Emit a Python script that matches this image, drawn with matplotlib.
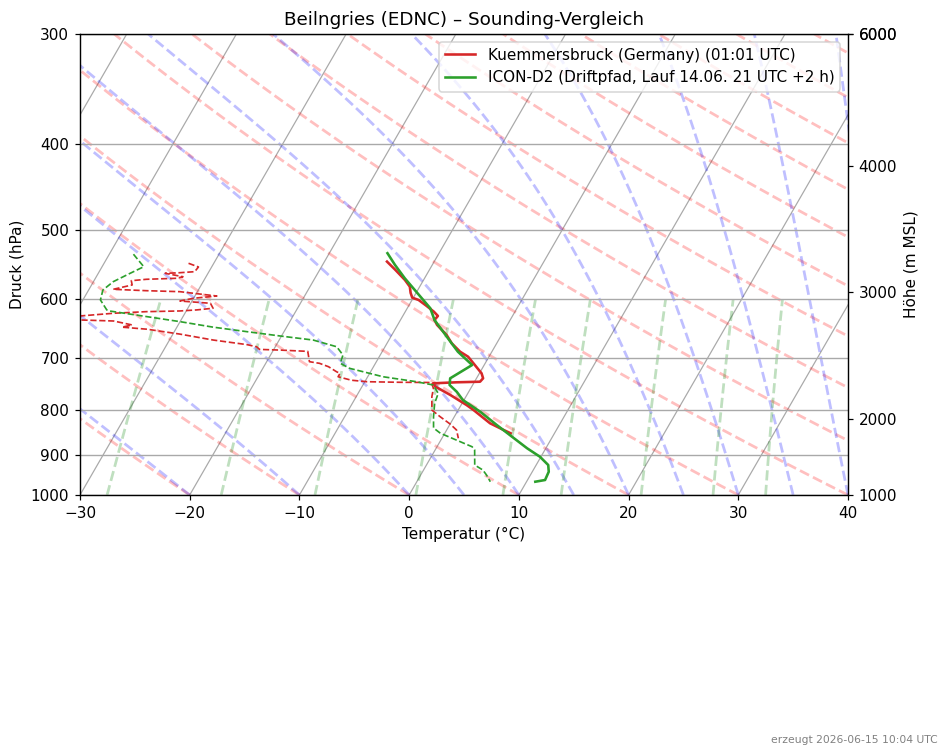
import numpy as np
import matplotlib
matplotlib.use('Agg')
import matplotlib.pyplot as plt
from matplotlib.ticker import MultipleLocator, NullLocator, FixedLocator, ScalarFormatter

# === Sounding data ===
# Kuemmersbruck radiosonde, temperature
kuem_p = [543.6, 555.5, 570.3, 580.4, 589.9, 597.3, 600.9, 609.9, 619.5, 626.5,
          633.1, 641.4, 649.9, 658.5, 672.9, 687.8, 696.9, 727.8, 737.3, 743.9,
          745.0, 747.0, 753.6, 770.2, 790.6, 801.0, 829.2, 843.9, 851.1]
kuem_t = [-14.3, -13.1, -11.7, -10.9, -10.5, -10.1, -9.4, -8.4, -7.4, -6.8,
          -6.9, -6.4, -5.7, -5.0, -4.1, -2.9, -1.9, 0.2, 0.6, 0.5,
          -1.6, -3.7, -3.3, -1.5, 0.5, 1.4, 3.6, 5.2, 6.0]

# Kuemmersbruck dewpoint
kuem_td_p = [546.0, 551.3, 558.1, 559.6, 560.5, 565.5, 567.8, 569.3, 571.4, 577.8,
             584.4, 586.5, 588.0, 594.7, 598.2, 602.5, 606.1, 614.0, 616.7, 618.4,
             619.5, 622.1, 626.5, 629.9, 633.1, 634.8, 641.4, 645.1, 648.6, 656.8,
             667.2, 675.2, 679.0, 683.7, 684.9, 687.2, 706.0, 709.0, 715.3, 724.8,
             727.8, 734.3, 741.0, 743.9, 745.0, 745.4, 756.8, 773.7, 801.0, 815.0,
             830.8, 843.9, 862.3]
kuem_td = [-32.3, -31.2, -31.3, -32.6, -33.9, -32.1, -32.6, -35.3, -36.6, -36.3,
           -37.8, -34.7, -31.6, -28.0, -30.0, -31.1, -28.2, -27.7, -29.1, -30.6,
           -33.6, -36.5, -39.4, -40.2, -39.2, -36.1, -34.2, -35.0, -32.6, -29.4,
           -26.0, -22.7, -21.7, -21.3, -19.4, -16.8, -16.1, -15.1, -14.1, -13.1,
           -12.7, -12.7, -11.3, -9.8, -6.8, -3.9, -3.4, -3.1, -2.4, -1.3,
           0.0, 0.9, 1.5]

# ICON-D2 drift path, temperature
icon_p = [531.8, 548.3, 567.8, 582.8, 598.2, 614.0, 633.1, 649.9, 670.1, 687.8,
          693.8, 712.1, 737.3, 750.3, 763.6, 780.3, 804.6, 832.9, 858.7, 885.2,
          904.8, 924.7, 941.0, 961.6, 965.9]
icon_t = [-14.7, -13.4, -11.8, -10.5, -9.2, -7.9, -6.9, -5.7, -4.3, -3.1,
          -2.6, -1.1, -2.4, -2.1, -1.1, -0.1, 2.1, 4.3, 6.3, 8.3,
          9.9, 11.1, 11.5, 11.6, 10.8]

# ICON-D2 dewpoint
icon_td_p = [533.2, 550.9, 560.5, 572.9, 585.5, 600.9, 616.7, 618.4, 627.6, 635.9,
             645.1, 652.7, 660.2, 667.2, 679.0, 693.8, 709.0, 718.3, 734.3, 743.9,
             750.3, 766.8, 787.0, 815.0, 839.5, 851.1, 881.6, 889.0, 924.7, 936.8,
             949.1, 965.9]
icon_td = [-37.8, -36.2, -37.1, -38.2, -38.7, -38.4, -37.3, -37.0, -33.3, -30.0,
           -26.7, -23.4, -20.1, -16.9, -14.4, -13.4, -13.2, -12.1, -8.6, -5.3,
           -3.6, -2.7, -2.5, -1.9, -1.3, -0.4, 3.2, 3.6, 4.4, 5.4,
           6.0, 6.7]

# right axis: height labels and the pressure they sit at
height_ticks = [1000, 2000, 3000, 4000, 5000, 6000]
height_tick_p = [1000, 820, 588, 423, 300, 300]

# background reference lines
dry_t0 = np.arange(-30, 150, 10)
moist_t0 = np.concatenate((np.arange(-30, 0, 10), np.arange(0, 65, 5)))
mix_ratios = [0.0004, 0.001, 0.002, 0.004, 0.007, 0.01, 0.016, 0.024, 0.032]

T_MIN, T_MAX = -30, 40
P_BOT, P_TOP = 1000, 300

# === Figure ===
DPI = 110
fig = plt.figure(figsize=(948 / DPI, 755 / DPI), dpi=DPI)
ax = fig.add_axes([80 / 948, 260 / 755, 768 / 948, 461 / 755])

# skew factor so isotherms lean 30 deg in display space
pos = ax.get_position()
w_px = pos.width * fig.get_figwidth()
h_px = pos.height * fig.get_figheight()
K = np.tan(np.radians(30)) * h_px / w_px * (T_MAX - T_MIN)


def skew(t, p):
    t = np.asarray(t, dtype=float)
    p = np.asarray(p, dtype=float)
    return t + K * np.log10(P_BOT / p) / np.log10(P_BOT / P_TOP)


def moist_lapse(t0_c, p):
    Rd, cp, Lv, eps = 287.04749, 1004.6662, 2.50084e6, 0.622

    def dtdp(T, pp):
        es = 6.112 * np.exp(17.67 * (T - 273.15) / (T - 29.65))
        rs = eps * es / (pp - es)
        return (Rd * T + Lv * rs) / (cp + Lv ** 2 * rs * eps / (Rd * T ** 2)) / pp

    T = np.asarray(t0_c, dtype=float) + 273.15
    out = [T.copy()]
    for i in range(len(p) - 1):
        h = p[i + 1] - p[i]
        k1 = dtdp(T, p[i])
        k2 = dtdp(T + h / 2 * k1, p[i] + h / 2)
        k3 = dtdp(T + h / 2 * k2, p[i] + h / 2)
        k4 = dtdp(T + h * k3, p[i] + h)
        T = T + h / 6 * (k1 + 2 * k2 + 2 * k3 + k4)
        out.append(T.copy())
    return np.array(out) - 273.15


p_lev = np.linspace(P_BOT, P_TOP, 120)

# skewed isotherms (grid)
for t in range(-70, 50, 10):
    ax.plot(skew([t, t], [P_BOT, P_TOP]), [P_BOT, P_TOP], color='#a9a9a9', lw=0.8, zorder=1)

# dry adiabats
for t0 in dry_t0:
    t = (t0 + 273.15) * (p_lev / 1000.0) ** 0.2857 - 273.15
    ax.plot(skew(t, p_lev), p_lev, color='r', ls='--', lw=1.8, alpha=0.25, zorder=1)

# moist adiabats
moist = moist_lapse(moist_t0, p_lev)
for j in range(len(moist_t0)):
    ax.plot(skew(moist[:, j], p_lev), p_lev, color='b', ls='--', lw=1.8, alpha=0.25, zorder=1)

# mixing ratio lines
p_mix = np.linspace(1000, 600, 50)
for w in mix_ratios:
    e = p_mix * w / (0.622 + w)
    td = 243.5 * np.log(e / 6.112) / (17.67 - np.log(e / 6.112))
    ax.plot(skew(td, p_mix), p_mix, color='g', ls='--', lw=1.8, alpha=0.25, zorder=1)

# soundings
ax.plot(skew(kuem_t, kuem_p), kuem_p, color='tab:red', lw=1.7, zorder=4,
        label='Kuemmersbruck (Germany) (01:01 UTC)')
ax.plot(skew(kuem_td, kuem_td_p), kuem_td_p, color='tab:red', lw=1.1, ls='--', zorder=4)
ax.plot(skew(icon_t, icon_p), icon_p, color='tab:green', lw=1.7, zorder=4,
        label='ICON-D2 (Driftpfad, Lauf 14.06. 21 UTC +2 h)')
ax.plot(skew(icon_td, icon_td_p), icon_td_p, color='tab:green', lw=1.1, ls='--', zorder=4)

# axes
ax.set_yscale('log')
ax.set_ylim(P_BOT, P_TOP)
ax.yaxis.set_major_locator(MultipleLocator(100))
ax.yaxis.set_major_formatter(ScalarFormatter())
ax.yaxis.set_minor_locator(NullLocator())
ax.set_xlim(T_MIN, T_MAX)
ax.xaxis.set_major_locator(MultipleLocator(10))
ax.yaxis.grid(True, color='#a9a9a9', lw=0.9)
ax.set_xlabel('Temperatur (°C)')
ax.set_ylabel('Druck (hPa)')
ax.set_title('Beilngries (EDNC) – Sounding-Vergleich')
ax.legend(loc='upper right')

# height axis on the right
ax2 = ax.twinx()
ax2.set_yscale('log')
ax2.set_ylim(P_BOT, P_TOP)
ax2.yaxis.set_major_locator(FixedLocator(height_tick_p))
ax2.yaxis.set_minor_locator(NullLocator())
ax2.set_yticklabels([str(h) for h in height_ticks])
ax2.set_ylabel('Höhe (m MSL)')

fig.text(0.989, 0.013, 'erzeugt 2026-06-15 10:04 UTC', ha='right', va='bottom',
         fontsize=7, color='gray')

fig.savefig('out.png', dpi=DPI)
